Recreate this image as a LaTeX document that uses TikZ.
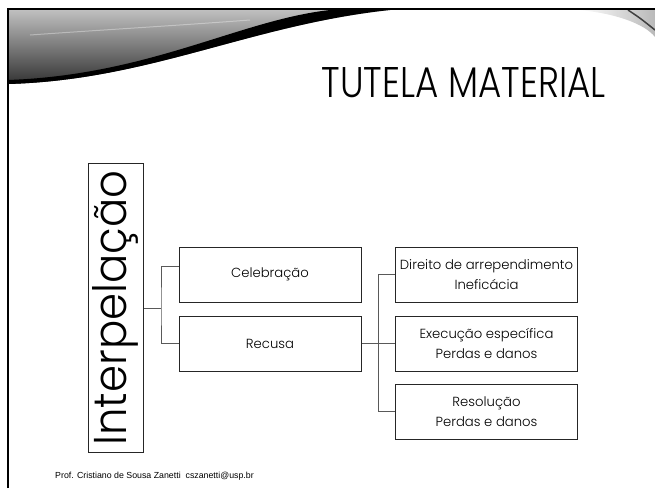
\documentclass[tikz,border=0pt]{standalone}
\usepackage{fontspec}
\usepackage{graphicx}
\setmainfont{Poppins Light}
\newfontfamily\footfont{Liberation Sans}
\usetikzlibrary{calc}

\def\bandArea{(8,10) -- (390,10) .. controls (250,25) and (150,80) .. (8,84) -- cycle}
\def\bandEdge{(390,10) .. controls (250,25) and (150,80) .. (8,84) -- (8,80) .. controls (150,75) and (240,20) .. (330,10) -- cycle}
\def\cornerArea{(578,10) .. controls (615,13) and (645,24) .. (655,37) -- (655,10) -- cycle}
\colorlet{box edge}{black!85}
\colorlet{link line}{black!65}
\tikzset{
  frame/.style={draw=black, line width=2pt},
  link/.style={draw=link line, line width=1pt}
  }
\tikzstyle{branch} = [rectangle, draw=box edge, line width=1pt, minimum width=182pt, minimum height=55pt, align=center, font=\fontsize{13.2}{20}\selectfont]
\tikzstyle{root}=[rectangle, draw=box edge, line width=1pt, minimum width=55pt, minimum height=289pt, inner sep=0pt]

\begin{document}
\begin{tikzpicture}[x=1pt,y=-1pt]
  \useasboundingbox (0,0) rectangle (655,488);

  \begin{scope}
    \shade[top color=gray!50, bottom color=black!80] \bandArea;
    \fill[black] \bandEdge;
    \draw[white, line width=1pt, opacity=0.35] (30,35) .. controls (100,30) and (170,26) .. (250,20);
    \shade[left color=white, right color=gray!55] \cornerArea;
    \draw[black!75, line width=1.5pt] (628,10) .. controls (640,18) .. (655,30);
  \end{scope}

  \draw[frame] (7.5,488) -- (7.5,9) -- (655,9);

  \node[anchor=base east, inner sep=0pt] (title) at (606,97) {\resizebox{284pt}{30pt}{TUTELA MATERIAL}};

  \node[root] (interp) at (115.5,308) {\rotatebox{90}{\resizebox{275pt}{34pt}{Interpelação}}};

  \foreach \pos/\name/\txt in {{(270,274.5)/celeb/Celebração}, {(270,343.5)/recusa/Recusa}} {
    \node[branch] (\name) at \pos {\txt};
  }
  \foreach \pos/\name/\txt in {{(486.5,274.5)/direito/{Direito de arrependimento\\Ineficácia}}, {(486.5,343.5)/exec/{Execução específica\\Perdas e danos}}, {(486.5,411.5)/resol/{Resolução\\Perdas e danos}}} {
    \node[branch] (\name) at \pos {\txt};
  }

  \coordinate (fork1) at ($(interp.east)!0.5!(celeb.west |- interp.east)$);
  \coordinate (fork2) at ($(recusa.east)!0.5!(exec.west)$);
  \draw[link] (interp.east) -- (fork1);
  \draw[link] ([yshift=8.5pt]celeb.west) -| (fork1) |- (recusa.west);
  \draw[link] (recusa.east) -- (fork2) -- (exec.west);
  \draw[link] (direito.west) -| (fork2) |- (resol.west);

  \node[font=\footfont\fontsize{8.8}{9}\selectfont, anchor=base west, inner sep=0pt] (credit) at (55,478) {Prof. Cristiano de Sousa Zanetti\ \ cszanetti@usp.br};
\end{tikzpicture}
\end{document}
